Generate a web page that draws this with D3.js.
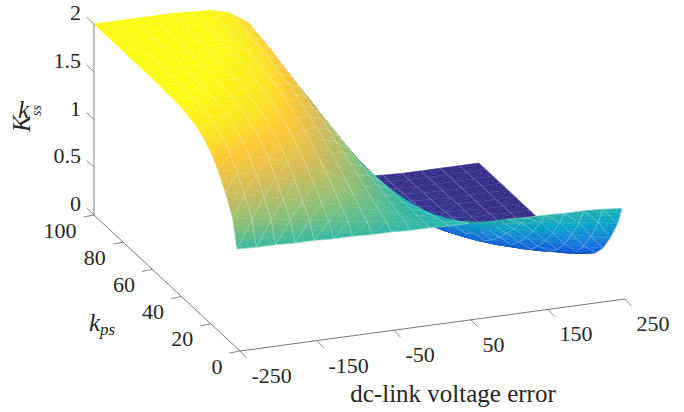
<!DOCTYPE html>
<html>
<head>
<meta charset="utf-8">
<script src="https://cdnjs.cloudflare.com/ajax/libs/d3/7.8.5/d3.min.js"></script>
<style>
  html, body { margin: 0; padding: 0; background: #fff; }
  text { font-family: "Liberation Serif", serif; fill: #262626; }
</style>
</head>
<body>
<div id="container"></div>
<script>
/* DATA */
const xTicks = [-250, -150, -50, 50, 150, 250]
const yTicks = [0, 20, 40, 60, 80, 100]
const zTicks = [0, 0.5, 1, 1.5, 2]
const zTickLabels = ["0", "0.5", "1", "1.5", "2"]

const xGrid = [-250, -225, -200, -175, -150, -125, -100, -75, -50, -25, 0, 25, 50, 75, 100, 125, 150, 175, 200, 225, 250]
const yGrid = [2, 5, 10, 15, 20, 25, 30, 35, 40, 45, 50, 55, 60, 65, 70, 75, 80, 85, 90, 95, 100]

// one row per yGrid value, one column per xGrid value
const zRows = [
  [1.04,1.03,1.03,1.02,1.02,1.01,1.01,1.00,1.00,.99,.99,.98,.98,.97,.97,.96,.96,.95,.95,.94,.92],
  [1.32,1.28,1.25,1.22,1.19,1.15,1.12,1.09,1.06,1.03,1.00,.97,.95,.92,.89,.86,.84,.81,.78,.76,.72],
  [1.52,1.47,1.42,1.37,1.32,1.27,1.22,1.16,1.11,1.05,1.00,.95,.89,.84,.78,.73,.68,.63,.59,.54,.50],
  [1.68,1.63,1.58,1.52,1.46,1.39,1.32,1.24,1.16,1.08,1.00,.92,.84,.76,.68,.61,.54,.48,.42,.37,.32],
  [1.80,1.76,1.71,1.65,1.58,1.50,1.41,1.32,1.22,1.11,1.00,.89,.78,.68,.59,.50,.42,.35,.29,.24,.20],
  [1.88,1.85,1.80,1.75,1.68,1.60,1.50,1.39,1.27,1.14,1.00,.86,.73,.61,.50,.40,.32,.25,.20,.15,.12],
  [1.93,1.90,1.87,1.82,1.76,1.68,1.58,1.46,1.32,1.16,1.00,.84,.68,.54,.42,.32,.24,.18,.13,.10,.07],
  [1.96,1.94,1.91,1.87,1.82,1.75,1.65,1.52,1.37,1.19,1.00,.81,.63,.48,.35,.25,.18,.13,.09,.06,.04],
  [1.98,1.96,1.94,1.91,1.87,1.80,1.71,1.58,1.41,1.22,1.00,.78,.59,.42,.29,.20,.13,.09,.06,.04,.02],
  [1.99,1.98,1.96,1.94,1.90,1.85,1.76,1.63,1.46,1.24,1.00,.76,.54,.37,.24,.15,.10,.06,.04,.02,.01],
  [1.99,1.99,1.98,1.96,1.93,1.88,1.80,1.68,1.50,1.27,1.00,.73,.50,.32,.20,.12,.07,.04,.02,.01,.01],
  [2.00,1.99,1.98,1.97,1.95,1.91,1.84,1.72,1.54,1.30,1.00,.70,.46,.28,.16,.09,.05,.03,.02,.01,0],
  [2.00,2.00,1.99,1.98,1.96,1.93,1.87,1.76,1.58,1.32,1.00,.68,.42,.24,.13,.07,.04,.02,.01,0,0],
  [2.00,2.00,1.99,1.99,1.97,1.95,1.89,1.79,1.62,1.34,1.00,.66,.38,.21,.11,.05,.03,.01,.01,0,0],
  [2.00,2.00,2.00,1.99,1.98,1.96,1.91,1.82,1.65,1.37,1.00,.63,.35,.18,.09,.04,.02,.01,0,0,0],
  [2.00,2.00,2.00,1.99,1.99,1.97,1.93,1.85,1.68,1.39,1.00,.61,.32,.15,.07,.03,.01,.01,0,0,0],
  [2.00,2.00,2.00,2.00,1.99,1.98,1.94,1.87,1.71,1.41,1.00,.59,.29,.13,.06,.02,.01,0,0,0,0],
  [2.00,2.00,2.00,2.00,1.99,1.98,1.95,1.89,1.74,1.44,1.00,.56,.26,.11,.05,.02,.01,0,0,0,0],
  [2.00,2.00,2.00,2.00,2.00,1.99,1.96,1.90,1.76,1.46,1.00,.54,.24,.10,.04,.01,0,0,0,0,0],
  [2.00,2.00,2.00,2.00,2.00,1.99,1.97,1.92,1.78,1.48,1.00,.52,.22,.08,.03,.01,0,0,0,0,0],
  [2.00,2.00,2.00,2.00,2.00,1.99,1.98,1.93,1.80,1.50,1.00,.50,.20,.07,.02,.01,0,0,0,0,0]
]

// parula stops, sampled from MATLAB's colormap
const parulaStops = ["#352a87","#0f5cdd","#1481d6","#06a4ca","#2eb7a4","#87bf77","#d1bb59","#fec832","#f9fb0e"]

/* CONSTANTS */
const width = 684
const height = 412

// oblique projection of the MATLAB box: each data axis has a screen x and a screen y part
const xToPx = d3.scaleLinear().domain([-250, 250]).range([0, 385])
const xToPy = d3.scaleLinear().domain([-250, 250]).range([0, -52])
const yToPx = d3.scaleLinear().domain([0, 100]).range([240, 94])
const yToPy = d3.scaleLinear().domain([0, 100]).range([351, 215])
const zToPy = d3.scaleLinear().domain([0, 2]).range([0, -191])

const project = (x, y, z) => [xToPx(x) + yToPx(y), xToPy(x) + yToPy(y) + zToPy(z)]

const color = d3.scaleLinear()
  .domain(parulaStops.map((c, i) => 2 * i / (parulaStops.length - 1)))
  .range(parulaStops)
  .interpolate(d3.interpolateRgb)
  .clamp(true)

// diagonals hardly show on the flat parts of the sheet
const diagOpacity = d3.scaleLinear().domain([0, 0.12]).range([0.04, 0.38]).clamp(true)

const svg = d3.select("#container")
  .append("svg")
    .attr("width", width)
    .attr("height", height)
    .style("display", "block")

const line = d3.line()

/* SURFACE: far cells first so the fold hides what is behind it */
const subdiv = 4
const drawList = []
for (let j = yGrid.length - 2; j >= 0; j--) {
  for (let i = xGrid.length - 2; i >= 0; i--) {
    // bilinear fill of one grid cell, only so that the shading is smooth
    const corner = (u, v) => {
      const z = d3.interpolate(
        d3.interpolate(zRows[j][i], zRows[j][i + 1])(u),
        d3.interpolate(zRows[j + 1][i], zRows[j + 1][i + 1])(u))(v)
      return {p: project(xGrid[i] + u * (xGrid[i + 1] - xGrid[i]), yGrid[j] + v * (yGrid[j + 1] - yGrid[j]), z), z}
    }
    for (let b = subdiv - 1; b >= 0; b--) {
      for (let a = subdiv - 1; a >= 0; a--) {
        const c = [corner(a / subdiv, b / subdiv), corner((a + 1) / subdiv, b / subdiv),
                   corner((a + 1) / subdiv, (b + 1) / subdiv), corner(a / subdiv, (b + 1) / subdiv)]
        drawList.push({kind: "patch", pts: c.map(d => d.p), z: d3.mean(c, d => d.z)})
      }
    }
    // triangle edges of this cell, drawn with the cell so they get hidden too
    const a = project(xGrid[i], yGrid[j], zRows[j][i])
    const b = project(xGrid[i + 1], yGrid[j], zRows[j][i + 1])
    const c = project(xGrid[i + 1], yGrid[j + 1], zRows[j + 1][i + 1])
    const e = project(xGrid[i], yGrid[j + 1], zRows[j + 1][i])
    // near the fold the sheet is seen edge-on and the mesh reads blue, not white
    const area = (b[0] - a[0]) * (e[1] - a[1]) - (b[1] - a[1]) * (e[0] - a[0])
    const edgeOn = Math.abs(area) < 55
    const stroke = edgeOn ? "#3c7fa8" : "#fff"
    drawList.push({kind: "mesh", segs: [[a, b], [b, c]], op: edgeOn ? 0.55 : 0.42, stroke})
    drawList.push({kind: "mesh", segs: [[a, c]], op: edgeOn ? 0.4 : diagOpacity(Math.abs(zRows[j + 1][i + 1] - zRows[j][i])), stroke})
  }
}

const surface = svg.append("g")
surface.selectAll("path")
  .data(drawList)
  .join("path")
    .attr("d", d => d.kind === "patch" ? line(d.pts) + "Z" : d.segs.map(s => line(s)).join(""))
    .attr("fill", d => d.kind === "patch" ? color(d.z) : "none")
    .attr("stroke", d => d.kind === "patch" ? color(d.z) : d.stroke)
    .attr("stroke-width", d => d.kind === "patch" ? 0.5 : 0.75)
    .attr("stroke-opacity", d => d.kind === "patch" ? 1 : d.op)

/* AXES */
const axisColor = "#555"
const axes = svg.append("g").attr("fill", "none")

const drawSeg = (a, b, stroke, w) => axes.append("path")
  .attr("d", line([a, b]))
  .attr("stroke", stroke)
  .attr("stroke-width", w)

drawSeg(project(-250, 0, 0), project(250, 0, 0), axisColor, 0.8)
drawSeg(project(-250, 0, 0), project(-250, 100, 0), axisColor, 0.8)
drawSeg(project(-250, 100, 0), project(-250, 100, 2), "#b0b0b0", 1.6)

xTicks.forEach(t => {
  const p = project(t, 0, 0)
  drawSeg(p, [p[0] + 6.5, p[1] + 7], axisColor, 0.7)
  svg.append("text")
    .attr("x", p[0] + 11.5).attr("y", p[1] + 32)
    .attr("font-size", 22)
    .text(t)
})
yTicks.forEach(t => {
  const p = project(-250, t, 0)
  drawSeg(p, [p[0] - 10.5, p[1] + 2], axisColor, 0.7)
  svg.append("text")
    .attr("x", p[0] - 17.5).attr("y", p[1] + 22.5)
    .attr("text-anchor", "end").attr("font-size", 22)
    .text(t)
})
zTicks.forEach((t, i) => {
  const p = project(-250, 100, t)
  drawSeg(p, [p[0] - 7.5, p[1] - 7], axisColor, 0.7)
  svg.append("text")
    .attr("x", p[0] - 13).attr("y", p[1] - 4)
    .attr("text-anchor", "end").attr("font-size", 22)
    .text(zTickLabels[i])
})

/* AXIS TITLES */
svg.append("text")
  .attr("x", 453).attr("y", 402)
  .attr("text-anchor", "middle").attr("font-size", 25)
  .text("dc-link voltage error")

const kps = svg.append("text")
  .attr("x", 89).attr("y", 331)
  .attr("font-style", "italic").attr("font-size", 25)
kps.append("tspan").text("k")
kps.append("tspan").attr("dy", 4).attr("font-size", 17).text("ps")

// z title: a rotated K with an upright k and a rotated subscript over it
svg.append("text")
  .attr("transform", "translate(30,132) rotate(-90)")
  .attr("font-style", "italic").attr("font-size", 25)
  .text("K")
svg.append("text")
  .attr("x", 18).attr("y", 118)
  .attr("font-style", "italic").attr("font-size", 25)
  .text("k")
svg.append("text")
  .attr("transform", "translate(41,116) rotate(-90)")
  .attr("font-style", "italic").attr("font-size", 14)
  .text("ss")

</script>
</body>
</html>
